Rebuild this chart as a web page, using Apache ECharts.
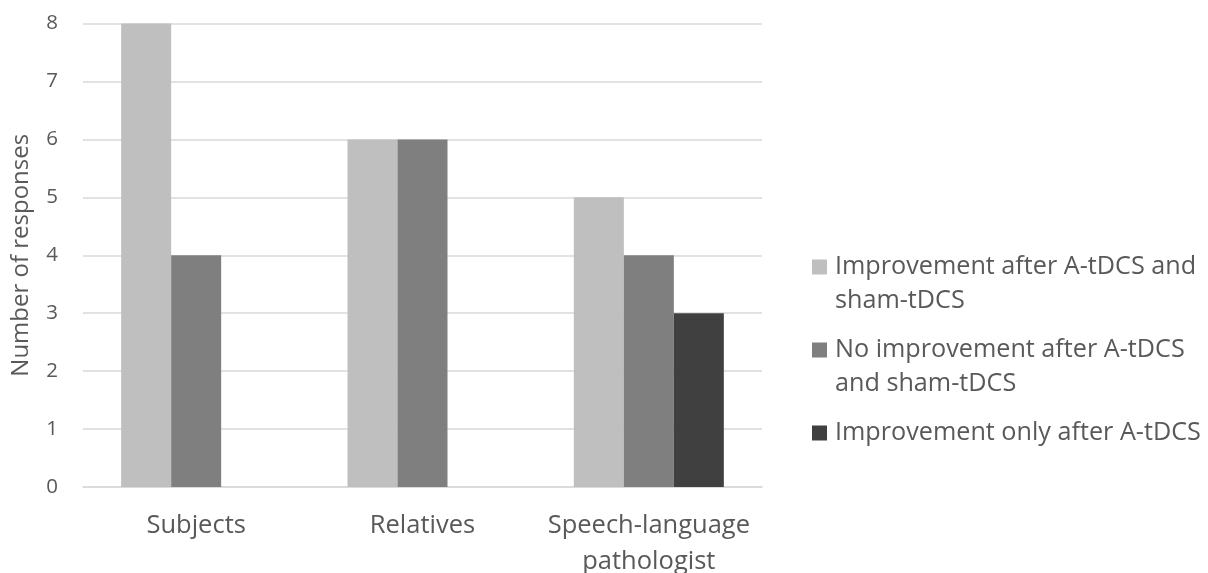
<!DOCTYPE html>
<html>
<head>
<meta charset="utf-8">
<script src="https://cdn.jsdelivr.net/npm/echarts@6/dist/echarts.min.js"></script>
<style>
html,body{margin:0;padding:0;background:#fff;}
#chart{width:1208px;height:573px;}
</style>
</head>
<body>
<div id="chart"></div>
<script>
const categories = ['Subjects', 'Relatives', 'Speech-language\npathologist'];
const seriesNames = ['Improvement after A-tDCS and\nsham-tDCS', 'No improvement after A-tDCS\nand sham-tDCS', 'Improvement only after A-tDCS'];
const improvementBoth = [8, 6, 5];
const noImprovement = [4, 6, 4];
const improvementOnlyA = [0, 0, 3];
const yTicks = [0, 1, 2, 3, 4, 5, 6, 7, 8];
const colors = ['#bfbfbf', '#7f7f7f', '#404040'];

const FONT = 'Open Sans';
const TXT = '#595959';
const chart = echarts.init(document.getElementById('chart'));
const legendIcon = 'path://M0,9.5h15v15h-15Z M0,0L0,0 M18,68L18,68';
chart.setOption({
  animation: false,
  color: colors,
  grid: { left: 83, right: 446, top: 23.5, bottom: 86, containLabel: false, outerBoundsMode: 'none' },
  legend: {
    orient: 'vertical',
    left: 812,
    top: 250,
    padding: 0,
    itemWidth: 18,
    itemHeight: 68,
    itemGap: 15,
    icon: legendIcon,
    formatter: name => name.indexOf('\n') < 0 ? name + '\n ' : name,
    textStyle: { fontFamily: FONT, fontSize: 25.2, color: TXT, lineHeight: 34 },
    data: seriesNames
  },
  xAxis: {
    type: 'category',
    data: categories,
    axisLine: { lineStyle: { color: '#d9d9d9', width: 1.5 } },
    axisTick: { show: false },
    axisLabel: { interval: 0, fontFamily: FONT, fontSize: 25.5, color: TXT, margin: 21, lineHeight: 36 }
  },
  yAxis: {
    type: 'value',
    min: 0, max: 8, interval: 1,
    name: 'Number of responses',
    nameLocation: 'middle',
    nameGap: 50,
    nameTextStyle: { fontFamily: FONT, fontSize: 24, color: TXT },
    axisLabel: { fontFamily: FONT, fontSize: 20.5, color: TXT, margin: 25,
      formatter: v => yTicks.includes(v) ? String(v) : '' },
    splitLine: { lineStyle: { color: '#d9d9d9', width: 1.5 } }
  },
  series: [
    { name: seriesNames[0], type: 'bar', data: improvementBoth, barWidth: 50, barGap: '0%' },
    { name: seriesNames[1], type: 'bar', data: noImprovement, barWidth: 50, barGap: '0%' },
    { name: seriesNames[2], type: 'bar', data: improvementOnlyA, barWidth: 50, barGap: '0%' }
  ]
});
</script>
</body>
</html>
